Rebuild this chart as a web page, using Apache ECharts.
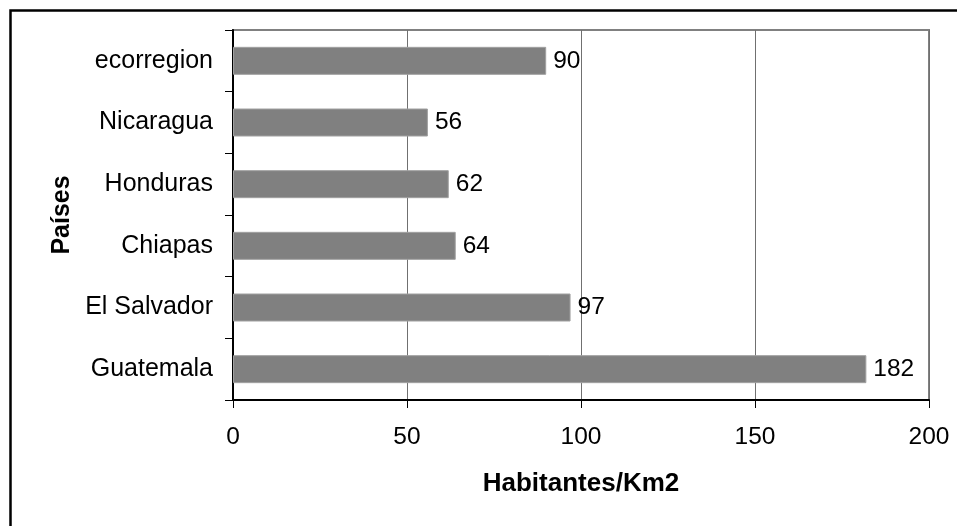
<!DOCTYPE html>
<html>
<head>
<meta charset="utf-8">
<script src="https://cdn.jsdelivr.net/npm/echarts@6/dist/echarts.min.js"></script>
<style>
  html, body { margin: 0; padding: 0; background: #fff; }
  #chart { width: 957px; height: 526px; }
</style>
</head>
<body>
<div id="chart"></div>
<script>
// datos (de abajo hacia arriba)
var paises = ['Guatemala', 'El Salvador', 'Chiapas', 'Honduras', 'Nicaragua', 'ecorregion'];
var densidad = [182, 97, 64, 62, 56, 90];
var ticksX = [0, 50, 100, 150, 200];

var FONT = '"Liberation Sans", Arial, sans-serif';

var chart = echarts.init(document.getElementById('chart'));

var option = {
    animation: false,
    backgroundColor: '#fff',
    textStyle: { fontFamily: FONT },
    graphic: [{
        type: 'rect',
        shape: { x: 10.5, y: 10.5, width: 1000, height: 1000 },
        style: { fill: 'none', stroke: '#000', lineWidth: 2.5 },
        z: 100
    }],
    grid: {
        left: 233, right: 28, top: 30, bottom: 126,
        show: true,
        borderColor: '#808080',
        borderWidth: 2
    },
    xAxis: {
        type: 'value',
        min: ticksX[0],
        max: ticksX[ticksX.length - 1],
        interval: 50,
        name: 'Habitantes/Km2',
        nameLocation: 'middle',
        nameGap: 71,
        nameTextStyle: { fontSize: 26, fontWeight: 'bold', color: '#000', fontFamily: FONT },
        axisLine: { show: true, lineStyle: { color: '#000', width: 2 } },
        axisTick: { show: true, length: 8, lineStyle: { color: '#000', width: 1 } },
        axisLabel: { fontSize: 24.5, color: '#000', margin: 25, fontFamily: FONT },
        splitLine: { show: true, lineStyle: { color: '#707070', width: 1 } }
    },
    yAxis: {
        type: 'category',
        data: paises,
        name: 'Países',
        nameLocation: 'middle',
        nameGap: 158,
        nameTextStyle: { fontSize: 25, fontWeight: 'bold', color: '#000', fontFamily: FONT },
        axisLine: { show: true, lineStyle: { color: '#000', width: 2 } },
        axisTick: { show: true, length: 8, interval: 0, lineStyle: { color: '#000', width: 1 } },
        axisLabel: { fontSize: 25, color: '#000', margin: 20, interval: 0, fontFamily: FONT },
        splitLine: { show: false }
    },
    series: [{
        type: 'bar',
        data: densidad,
        barWidth: 28,
        itemStyle: { color: '#808080', borderColor: '#a0a0a0', borderWidth: 1 },
        label: {
            show: true,
            position: 'right',
            distance: 7,
            fontSize: 24.5,
            color: '#000',
            fontFamily: FONT
        }
    }]
};

chart.setOption(option);
</script>
</body>
</html>
